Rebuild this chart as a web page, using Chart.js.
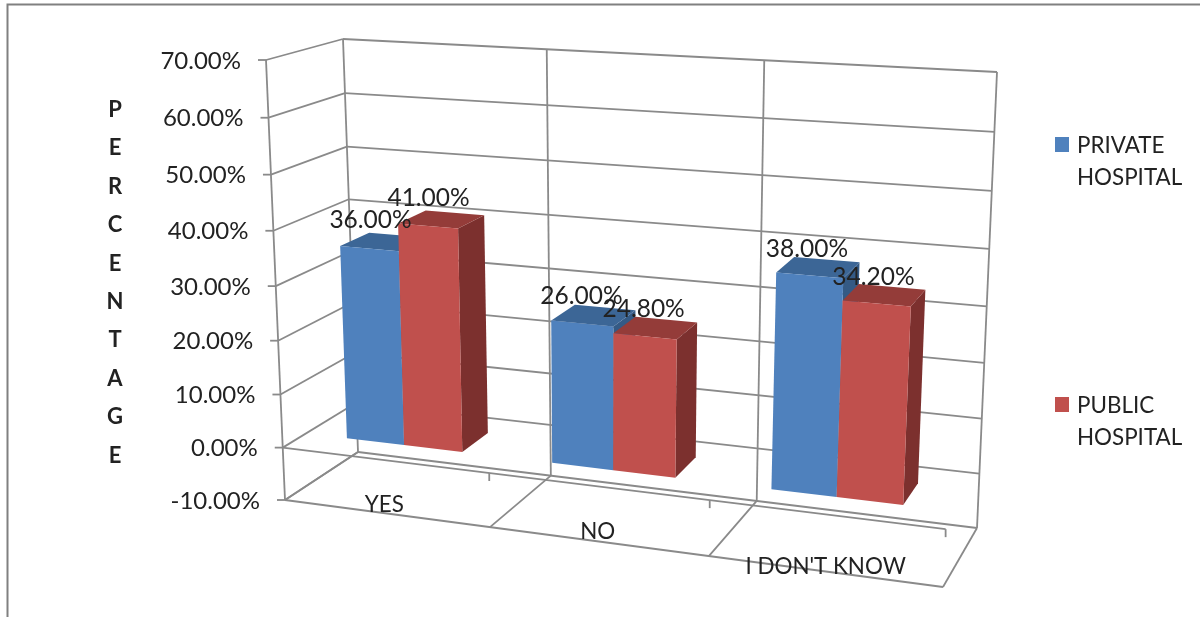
<!DOCTYPE html>
<html>
<head>
<meta charset="utf-8">
<title>Percentage by hospital type</title>
<script src="https://cdn.jsdelivr.net/npm/chart.js@4"></script>
<style>
  html, body { margin: 0; padding: 0; background: #fff; overflow: hidden; }
  canvas { display: block; }
</style>
</head>
<body>
<canvas id="chart" width="1200" height="617"></canvas>
<script>
const categories = ["YES", "NO", "I DON'T KNOW"];
const privateHospital = [36, 26, 38];
const publicHospital = [41, 24.8, 34.2];
const seriesNames = [["PRIVATE", "HOSPITAL"], ["PUBLIC", "HOSPITAL"]];
const yTickLabels = ["-10.00%", "0.00%", "10.00%", "20.00%", "30.00%", "40.00%", "50.00%", "60.00%", "70.00%"];
const axisTitle = "PERCENTAGE";

const FONT = "Lato, Carlito, sans-serif";
const GRID = "#8a8a8a";
const TEXT = "#222";

// the 3d box: screen position of its 8 corners, [front/back][bottom/top][left/right]
const box = {
  fbl: [285, 500], fbr: [943, 587], ftl: [266, 60], ftr: [965, 101],
  bbl: [358, 452], bbr: [977, 528], btl: [343, 39], btr: [997, 72]
};
const BAR_DEPTH = [0.32, 0.72];
const BAR_SHIFT = -0.003; // columns sit slightly left of the category centre

// foreshortening along one edge of the box
const persp = (t, a) => a * t / (1 + (a - 1) * t);
const lerp = (p, q, t) => [p[0] + (q[0] - p[0]) * t, p[1] + (q[1] - p[1]) * t];

// u: across the categories, v: up the value axis, w: into the chart (all 0..1)
function project(u, v, w) {
  const fu = persp(u, 0.905), fv = persp(v, 0.946);
  const front = lerp(lerp(box.fbl, box.fbr, fu), lerp(box.ftl, box.ftr, fu), fv);
  const back = lerp(lerp(box.bbl, box.bbr, fu), lerp(box.btl, box.btr, fu), fv);
  return lerp(front, back, w);
}

function poly(ctx, pts, fill) {
  ctx.beginPath();
  pts.forEach((p, i) => i ? ctx.lineTo(p[0], p[1]) : ctx.moveTo(p[0], p[1]));
  ctx.closePath();
  ctx.fillStyle = fill;
  ctx.fill();
}

function line(ctx, a, b) {
  ctx.beginPath();
  ctx.moveTo(a[0], a[1]);
  ctx.lineTo(b[0], b[1]);
  ctx.stroke();
}

function text(ctx, str, x, y, font, align) {
  ctx.font = font;
  ctx.textAlign = align || "center";
  ctx.textBaseline = "middle";
  ctx.fillStyle = TEXT;
  ctx.fillText(str, x, y);
}

const box3d = {
  id: "box3d",
  beforeDatasetsDraw(chart) {
    const ctx = chart.ctx, area = chart.chartArea;
    const xs = chart.scales.x, ys = chart.scales.y;
    const toU = px => (px - area.left) / area.width;
    const toV = px => (area.bottom - px) / area.height;

    ctx.save();

    // outer frame
    ctx.strokeStyle = "#808080";
    ctx.lineWidth = 2;
    ctx.beginPath();
    ctx.moveTo(7.5, 617);
    ctx.lineTo(7.5, 4.5);
    ctx.lineTo(1200, 4.5);
    ctx.stroke();

    // walls and value ticks
    ctx.strokeStyle = GRID;
    ctx.lineWidth = 1.8;
    ys.ticks.forEach((tick, i) => {
      const v = toV(ys.getPixelForTick(i));
      const p = project(0, v, 0);
      line(ctx, [p[0] - 8, p[1]], p);
      line(ctx, p, project(0, v, 1));
      line(ctx, project(0, v, 1), project(1, v, 1));
      text(ctx, yTickLabels[i], p[0] - 25, p[1] + 1, "24px " + FONT, "right");
    });
    line(ctx, project(0, 0, 0), project(0, 1, 0));
    [0, 1, 2, 3].forEach(k => {
      const u = k / 3;
      line(ctx, project(u, 0, 1), project(u, 1, 1));
      line(ctx, project(u, 0, 0), project(u, 0, 1));
    });
    line(ctx, project(0, 0, 0), project(1, 0, 0));

    // category axis sits on the zero level at the front of the box
    const zero = toV(ys.getPixelForValue(0));
    line(ctx, project(0, zero, 0), project(1, zero, 0));
    [1, 2, 3].forEach(k => {
      const p = project(k / 3, zero, 0);
      line(ctx, p, [p[0], p[1] + 8]);
    });

    // bars, left to right so the next column covers the side of the previous one
    categories.forEach((cat, c) => {
      chart.data.datasets.forEach((ds, d) => {
        const bar = chart.getDatasetMeta(d).data[c];
        const u0 = toU(bar.x - bar.width / 2) + BAR_SHIFT, u1 = toU(bar.x + bar.width / 2) + BAR_SHIFT;
        const vBase = toV(bar.base), vTop = toV(bar.y);
        const [w0, w1] = BAR_DEPTH;
        poly(ctx, [project(u1, vBase, w0), project(u1, vBase, w1), project(u1, vTop, w1), project(u1, vTop, w0)], ds.sideColor);
        poly(ctx, [project(u0, vTop, w0), project(u1, vTop, w0), project(u1, vTop, w1), project(u0, vTop, w1)], ds.topColor);
        poly(ctx, [project(u0, vBase, w0), project(u1, vBase, w0), project(u1, vTop, w0), project(u0, vTop, w0)], ds.backgroundColor);
      });
    });

    // value labels go on top of every bar
    categories.forEach((cat, c) => {
      chart.data.datasets.forEach((ds, d) => {
        const bar = chart.getDatasetMeta(d).data[c];
        const u = toU(bar.x);
        const p = project(u, toV(bar.y), BAR_DEPTH[0]);
        text(ctx, ds.data[c].toFixed(2) + "%", p[0] - 6 * u, p[1] - 29 + 3 * u, "24.5px " + FONT);
      });
    });

    // category names
    xs.ticks.forEach((tick, i) => {
      const u = toU(xs.getPixelForTick(i));
      const p = project(u, zero, 0);
      text(ctx, categories[i], p[0], p[1] + 45 + (i === 2 ? 7 : 0), "22.4px " + FONT);
    });

    // axis title, one letter per line
    axisTitle.split("").forEach((ch, i) => {
      text(ctx, ch, 115, 110 + i * 38.4, "bold 22px " + FONT);
    });

    // legend
    chart.data.datasets.forEach((ds, d) => {
      const top = 137 + d * 260;
      ctx.fillStyle = ds.backgroundColor;
      ctx.fillRect(1055, top, 14, 15);
      seriesNames[d].forEach((ln, i) => {
        text(ctx, ln, 1077, top + 9 + i * 32, "22.4px " + FONT, "left");
      });
    });

    ctx.restore();
    return false;
  }
};

new Chart(document.getElementById("chart"), {
  type: "bar",
  data: {
    labels: categories,
    datasets: [
      { label: "PRIVATE HOSPITAL", data: privateHospital, backgroundColor: "#4f81bd", topColor: "#3c6696", sideColor: "#345a85" },
      { label: "PUBLIC HOSPITAL", data: publicHospital, backgroundColor: "#c0504d", topColor: "#943c39", sideColor: "#7c302e" }
    ]
  },
  options: {
    responsive: false,
    animation: false,
    events: [],
    categoryPercentage: 0.57,
    barPercentage: 1,
    layout: { padding: 0 },
    scales: {
      x: { display: false },
      y: { display: false, min: -10, max: 70, ticks: { stepSize: 10 } }
    },
    plugins: { legend: { display: false }, tooltip: { enabled: false } }
  },
  plugins: [box3d]
});
</script>
</body>
</html>
